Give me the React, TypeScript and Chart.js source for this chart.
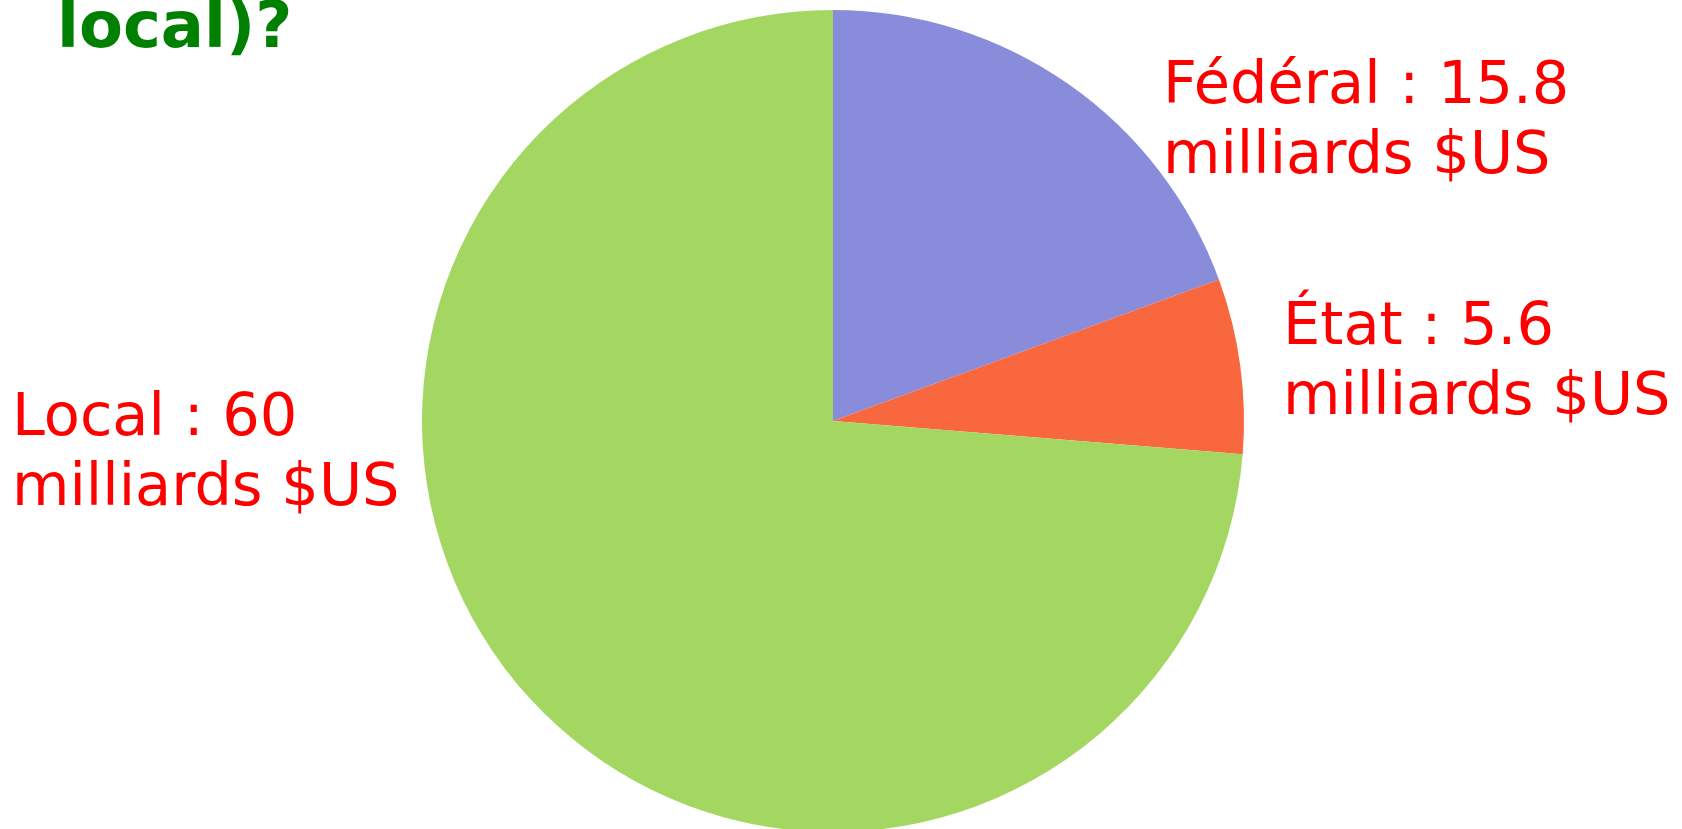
import React, { useEffect, useRef } from "react";
import { Chart, registerables } from "chart.js";

Chart.register(...registerables);

const categories = ["Fédéral", "État", "Local"];
const values = [15.8, 5.6, 60];
const unitText = "milliards $US";
const titleText = "local)?";
const sliceColors = ["#898CDA", "#F9673E", "#A3D762"];

const labelLayout = [
  { x: 1163, y: 103 },
  { x: 1283, y: 344 },
  { x: 12, y: 435 },
];

const textPlugin = {
  id: "textPlugin",
  afterDraw(chart: any) {
    const ctx = chart.ctx;
    ctx.save();
    ctx.textBaseline = "alphabetic";
    ctx.textAlign = "left";
    ctx.fillStyle = "#008000";
    ctx.font = "bold 64px 'DejaVu Sans'";
    ctx.fillText(titleText, 57, 47);
    ctx.fillStyle = "#FF0000";
    ctx.font = "59px 'DejaVu Sans'";
    categories.forEach((c, i) => {
      const p = labelLayout[i];
      ctx.fillText(`${c} : ${values[i]}`, p.x, p.y);
      ctx.fillText(unitText, p.x, p.y + 70);
    });
    ctx.restore();
  },
};

export default function App() {
  const ref = useRef<HTMLCanvasElement>(null);
  useEffect(() => {
    if (!ref.current) return;
    const chart = new Chart(ref.current, {
      type: "pie",
      data: {
        labels: categories,
        datasets: [
          {
            data: values,
            backgroundColor: sliceColors,
            borderWidth: 0,
            clip: false,
          } as any,
        ],
      },
      options: {
        responsive: false,
        animation: false,
        devicePixelRatio: 1,
        radius: 411,
        layout: { padding: { left: 0, right: 16, top: 13, bottom: 0 } },
        plugins: {
          legend: { display: false },
          tooltip: { enabled: false },
          title: { display: false },
        },
      } as any,
      plugins: [textPlugin],
    });
    return () => chart.destroy();
  }, []);
  return (
    <canvas
      ref={ref}
      width={1682}
      height={829}
      style={{ position: "fixed", left: 0, top: 0, width: 1682, height: 829, background: "#fff" }}
    />
  );
}
